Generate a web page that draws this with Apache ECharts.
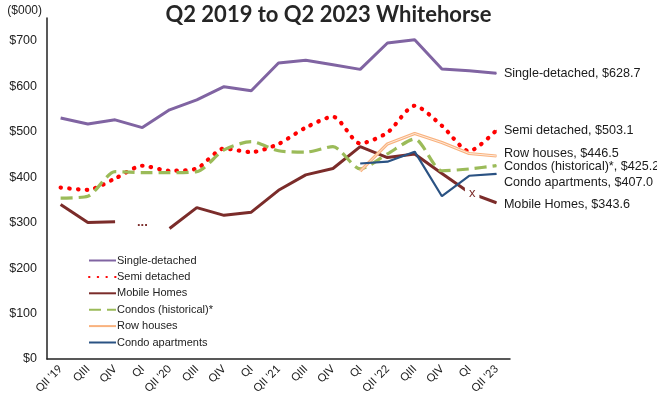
<!DOCTYPE html>
<html>
<head>
<meta charset="utf-8">
<script src="https://cdn.jsdelivr.net/npm/echarts@6/dist/echarts.min.js"></script>
<style>html,body{margin:0;padding:0;background:#fff}#c{width:657px;height:400px}</style>
</head>
<body>
<div id="c"></div>
<script>
var categories = ["QII '19","QIII","QIV","QI","QII '20","QIII","QIV","QI","QII '21","QIII","QIV","QI","QII '22","QIII","QIV","QI","QII '23"];
var singleDetached = [530, 517, 526, 509, 548, 570, 599, 590, 651, 657, 647, 637, 695, 702, 638, 634, 628.7];
var semiDetached = [377, 372, 397, 425, 414, 419, 463, 455, 473, 509, 533, 474, 498, 557, 513, 457, 503.1];
var mobileHomes = [340, 300, 302, null, 287, 333, 316, 323, 371, 405, 419, 467, 443, 451, 408, 366, 343.6];
var condosHistorical = [354, 358, 412, 410, 410, 412, 460, 478, 458, 455, 467, 418, 451, 484, 414, 418, 425.2];
var rowHouses = [null, null, null, null, null, null, null, null, null, null, null, 413, 473, 496, 476, 452, 446.5];
var condoApartments = [null, null, null, null, null, null, null, null, null, null, null, 430, 434, 456, 358, 403, 407.0];
var yTicks = [0, 100, 200, 300, 400, 500, 600, 700];
var endLabels = {
  'Single-detached': 'Single-detached, $628.7',
  'Semi detached': 'Semi detached, $503.1',
  'Mobile Homes': 'Mobile Homes, $343.6',
  'Condos (historical)*': 'Condos (historical)*, $425.2',
  'Row houses': 'Row houses, $446.5',
  'Condo apartments': 'Condo apartments, $407.0'
};
var mobileGapLabel = '...';
var mobileGapIndex = 3;
var mobileGapValue = 300;
var mobileSuppressedIndex = 15;
var mobileSuppressedLabel = 'x';

var last = categories.length - 1;
function withEnd(name, arr, dy, color) {
  return arr.map(function (v, i) {
    if (i === last) {
      return { value: v, symbol: 'circle', symbolSize: 1, itemStyle: { color: color },
        label: { show: true, position: 'right', distance: 7, offset: [0, dy || 0],
        formatter: endLabels[name], color: '#1a1a1a', fontSize: 12.6, fontFamily: 'Liberation Sans' } };
    }
    return v;
  });
}
var mobileData = withEnd('Mobile Homes', mobileHomes, 2, '#7B2C2A').map(function (d, i) {
  if (i === mobileSuppressedIndex) {
    return { value: d, symbol: 'circle', symbolSize: 1, itemStyle: { color: '#7B2C2A' },
      label: { show: true, position: 'inside', offset: [3, 1], formatter: mobileSuppressedLabel,
      color: '#7B2C2A', fontSize: 13, fontFamily: 'Liberation Sans', backgroundColor: '#fff', padding: [0, 4, 1, 4] } };
  }
  return d;
});

var chart = echarts.init(document.getElementById('c'), null, { renderer: 'canvas' });
chart.setOption({
  animation: false,
  backgroundColor: '#fff',
  title: {
    text: 'Q2 2019 to Q2 2023 Whitehorse', left: 'center', top: -1,
    textStyle: { fontFamily: 'Lato', fontWeight: 'bold', fontSize: 22, color: '#262626' }
  },
  grid: { left: 47, right: 147, top: 18, bottom: 41, containLabel: false },
  legend: {
    orient: 'vertical', left: 83, top: 250, itemWidth: 27, itemHeight: 12, itemGap: 5.4,
    itemStyle: { opacity: 0 },
    textStyle: { fontFamily: 'Liberation Sans', fontSize: 11, color: '#222', padding: [0, 0, 0, -4] },
    data: ['Single-detached', 'Semi detached', 'Mobile Homes', 'Condos (historical)*', 'Row houses', 'Condo apartments']
  },
  xAxis: {
    type: 'category', data: categories, boundaryGap: true,
    axisLine: { lineStyle: { color: '#222', width: 1.5 } },
    axisTick: { show: false },
    axisLabel: { rotate: 45, interval: 0, margin: 8, fontSize: 11, fontFamily: 'Lato', color: '#222' }
  },
  yAxis: {
    type: 'value', min: 0, max: 750, interval: 100,
    name: '($000)', nameLocation: 'end', nameGap: 1,
    nameTextStyle: { align: 'right', padding: [0, 5, 0, 0], fontSize: 12, fontFamily: 'Liberation Sans', color: '#222' },
    axisLine: { show: true, lineStyle: { color: '#222', width: 1.5 } },
    axisTick: { show: false },
    splitLine: { show: false },
    axisLabel: { showMaxLabel: false, margin: 10, fontSize: 12.5, fontFamily: 'Liberation Sans', color: '#222',
      formatter: function (v) { return yTicks.indexOf(v) >= 0 ? '$' + v : ''; } }
  },
  series: [
    { name: 'Single-detached', type: 'line', symbol: 'none', data: withEnd('Single-detached', singleDetached, 0, '#8064A2'),
      lineStyle: { color: '#8064A2', width: 3 }, itemStyle: { color: '#8064A2' } },
    { name: 'Semi detached', type: 'line', symbol: 'none', smooth: 0.25, data: withEnd('Semi detached', semiDetached, 0, '#FF0000'),
      lineStyle: { color: '#FF0000', width: 4.2, type: [0.5, 8.2], cap: 'round' }, itemStyle: { color: '#FF0000' } },
    { name: 'Mobile Homes', type: 'line', symbol: 'none', data: mobileData, connectNulls: false,
      lineStyle: { color: '#7B2C2A', width: 3 }, itemStyle: { color: '#7B2C2A' },
      markPoint: { symbol: 'circle', symbolSize: 0, silent: true,
        data: [{ coord: [mobileGapIndex, mobileGapValue], label: { show: true, formatter: mobileGapLabel, color: '#7B2C2A',
          fontSize: 13, fontWeight: 'bold', fontFamily: 'Liberation Sans', position: 'inside' } }] } },
    { name: 'Condos (historical)*', type: 'line', symbol: 'none', smooth: 0.25, data: withEnd('Condos (historical)*', condosHistorical, 1, '#9BBB59'),
      lineStyle: { color: '#9BBB59', width: 3.2, type: [12, 6] }, itemStyle: { color: '#9BBB59' } },
    { name: 'Row houses', type: 'line', symbol: 'none', data: withEnd('Row houses', rowHouses, -2, '#F9B27E'),
      lineStyle: { color: '#F9B27E', width: 3.2 }, itemStyle: { color: '#FAC090' }, z: 3 },
    { name: 'Row houses inner', type: 'line', symbol: 'none', data: rowHouses, silent: true,
      lineStyle: { color: '#FEEBDD', width: 1 }, itemStyle: { color: '#FEEBDD' }, z: 3 },
    { name: 'Condo apartments', type: 'line', symbol: 'none', data: withEnd('Condo apartments', condoApartments, 9, '#2A5283'),
      lineStyle: { color: '#2A5283', width: 2.2 }, itemStyle: { color: '#2A5283' }, z: 4 }
  ]
});
</script>
</body>
</html>
